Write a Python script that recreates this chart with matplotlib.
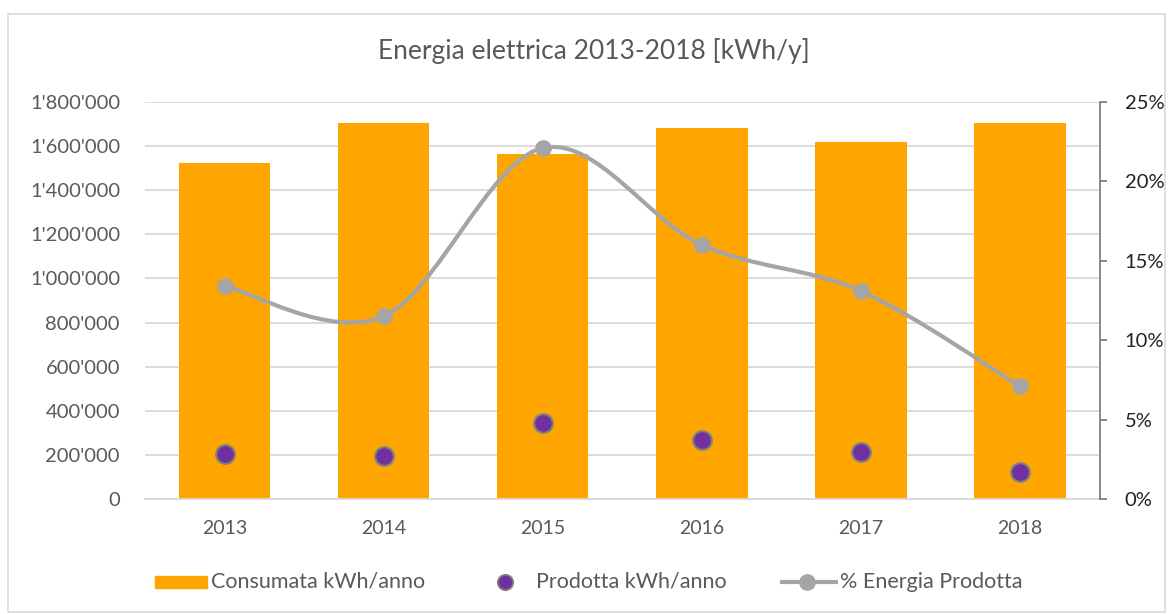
import matplotlib
matplotlib.use("Agg")
import matplotlib.pyplot as plt
import numpy as np
from matplotlib.path import Path
from matplotlib.patches import PathPatch, Rectangle
from matplotlib.lines import Line2D
from matplotlib.ticker import FuncFormatter, MultipleLocator

years = ["2013", "2014", "2015", "2016", "2017", "2018"]
consumata = [1525000, 1705000, 1562000, 1680000, 1620000, 1705000]
prodotta = [204000, 195000, 345000, 267000, 213000, 122000]
percent = [13.4, 11.5, 22.1, 16.0, 13.1, 7.1]

title = "Energia elettrica 2013-2018 [kWh/y]"
legend_labels = ["Consumata kWh/anno", "Prodotta kWh/anno", "% Energia Prodotta"]

FONT = "Lato"
plt.rcParams['font.family'] = [FONT, 'DejaVu Sans']

W, H = 1169, 614
fig = plt.figure(figsize=(W / 100, H / 100), dpi=100)

# outer border
fig.patches.append(Rectangle((8 / W, 2 / H), (W - 12) / W, (H - 16) / H, transform=fig.transFigure,
                             fill=False, edgecolor="#D9D9D9", linewidth=1.2))

ax_l, ax_b, ax_w, ax_h = 145 / W, (H - 499) / H, 954.5 / W, 397 / H
ax = fig.add_axes([ax_l, ax_b, ax_w, ax_h])
ax2 = ax.twinx()

x = np.arange(len(years))
ax.bar(x, consumata, width=0.575, color="#FFA500", zorder=2)
ax.set_xlim(-0.5, len(years) - 0.5)
ax.set_ylim(0, 1800000)
ax.yaxis.set_major_locator(MultipleLocator(200000))
ax.yaxis.set_major_formatter(FuncFormatter(lambda v, p: "{:,}".format(int(v)).replace(",", "'")))
ax.grid(axis="y", color="#D9D9D9", linewidth=1.3, zorder=0)
ax.set_axisbelow(True)
for s in ["top", "right", "left"]:
    ax.spines[s].set_visible(False)
ax.spines["bottom"].set_color("#D9D9D9")
ax.spines["bottom"].set_linewidth(1.3)
ax.set_xticks(x)
ax.set_xticklabels(years)
ax.tick_params(axis="x", length=0, pad=15, labelsize=14, labelcolor="#595959")
ax.tick_params(axis="y", length=0, pad=18, labelsize=14.5, labelcolor="#595959")

ax.scatter(x, prodotta, s=180, color="#7030A0", edgecolor="#7F7F7F", linewidth=1.5, zorder=5)

# secondary axis
ax2.set_ylim(0, 25)
ax2.yaxis.set_major_locator(MultipleLocator(5))
ax2.yaxis.set_major_formatter(FuncFormatter(lambda v, p: "{:d}%".format(int(round(v)))))
for s in ["top", "left", "bottom"]:
    ax2.spines[s].set_visible(False)
ax2.spines["right"].set_color("#7F7F7F")
ax2.spines["right"].set_linewidth(1.3)
ax2.tick_params(axis="y", direction="out", length=5, width=1.3, color="#7F7F7F", pad=13,
                labelsize=14.5, labelcolor="#222222")
ax2.set_xlim(-0.5, len(years) - 0.5)

# smoothed line (Excel-like Catmull-Rom bezier in pixel space)
sx = ax_w * W / len(years)
sy = ax_h * H / 25.0
P = np.column_stack([x * sx, np.array(percent) * sy])
n = len(P)
verts = [P[0]]
codes = [Path.MOVETO]
for i in range(n - 1):
    p0 = P[i - 1] if i > 0 else P[i]
    p1 = P[i]
    p2 = P[i + 1]
    p3 = P[i + 2] if i + 2 < n else P[i + 1]
    c1 = p1 + (p2 - p0) / 6.0
    c2 = p2 - (p3 - p1) / 6.0
    verts += [c1, c2, p2]
    codes += [Path.CURVE4] * 3
verts = np.array(verts)
verts[:, 0] /= sx
verts[:, 1] /= sy
ax2.add_patch(PathPatch(Path(verts, codes), fill=False, edgecolor="#A5A5A5", linewidth=3, zorder=4,
                        capstyle="round", joinstyle="round"))
ax2.plot(x, percent, linestyle="none", marker="o", markersize=11, color="#A5A5A5", zorder=6)

fig.text(594 / W, 1 - 51 / H, title, ha="center", va="center", fontsize=19, color="#595959")

# legend
ly = 1 - 582 / H
fig.patches.append(Rectangle((155 / W, ly - 6 / H), 52 / W, 12 / H, transform=fig.transFigure,
                             color="#FFA500"))
fig.text(211 / W, ly, legend_labels[0], ha="left", va="center", fontsize=15.5, color="#595959")
fig.lines.append(Line2D([505 / W], [ly], transform=fig.transFigure, marker="o", markersize=11,
                        color="#7030A0", markeredgecolor="#7F7F7F", markeredgewidth=1.3, linestyle="none"))
fig.text(536 / W, ly, legend_labels[1], ha="left", va="center", fontsize=15.5, color="#595959")
fig.lines.append(Line2D([780 / W, 838 / W], [ly, ly], transform=fig.transFigure, color="#A5A5A5",
                        linewidth=3, solid_capstyle="butt"))
fig.lines.append(Line2D([807 / W], [ly], transform=fig.transFigure, marker="o", markersize=11,
                        color="#A5A5A5", linestyle="none"))
fig.text(840 / W, ly, legend_labels[2], ha="left", va="center", fontsize=15.5, color="#595959")

fig.savefig("out.png", dpi=100)
